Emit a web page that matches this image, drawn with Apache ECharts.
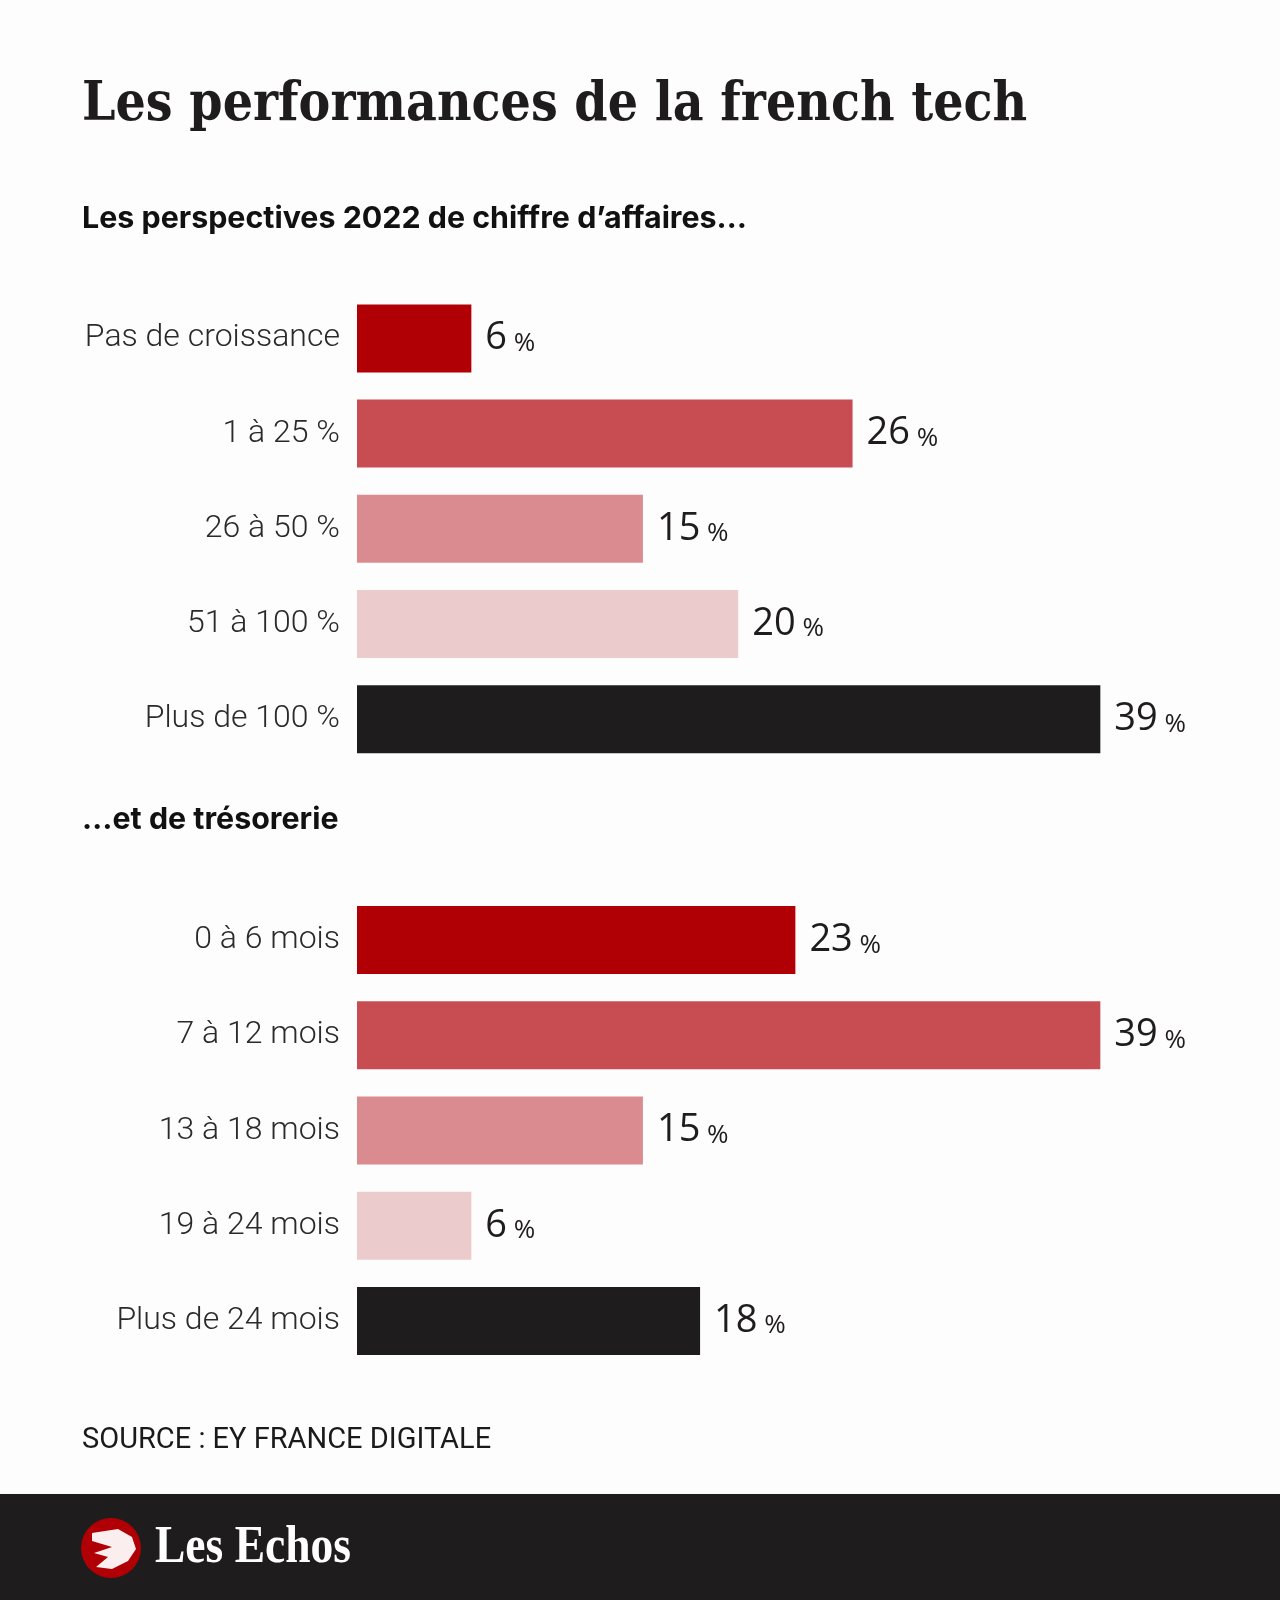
<!DOCTYPE html>
<html><head><meta charset="utf-8">
<script src="https://cdn.jsdelivr.net/npm/echarts@6/dist/echarts.min.js"></script>
<style>html,body{margin:0;padding:0;background:#fefdfd}#c{width:1280px;height:1600px}</style>
</head><body><div id="c"></div>
<script>
const title = "Les performances de la french tech";
const subtitle1 = "Les perspectives 2022 de chiffre d\u2019affaires\u2026";
const subtitle2 = "\u2026et de trésorerie";
const source = "SOURCE : EY FRANCE DIGITALE";
const brand = "Les Echos";

const caCategories = ["Pas de croissance", "1 à 25 %", "26 à 50 %", "51 à 100 %", "Plus de 100 %"];
const caValues = [6, 26, 15, 20, 39];
const tresoCategories = ["0 à 6 mois", "7 à 12 mois", "13 à 18 mois", "19 à 24 mois", "Plus de 24 mois"];
const tresoValues = [23, 39, 15, 6, 18];
const barColors = ["#b00006", "#c84d52", "#d98b8f", "#eccbcc", "#1f1c1e"];

const chart = echarts.init(document.getElementById('c'), null, {renderer: 'canvas'});

function makeData(vals) {
  return vals.map((v, i) => ({value: v, itemStyle: {color: barColors[i]}}));
}
const labelCfg = {
  show: true, position: 'right', distance: 14,
  formatter: p => '{n|' + p.value + '}{p| %}',
  rich: {
    n: {fontFamily: 'Open Sans', fontSize: 38, color: '#1f1c1e', fontWeight: 400},
    p: {fontFamily: 'Open Sans', fontSize: 26, color: '#1f1c1e', padding: [10, 0, 0, 0]}
  }
};
const catAxis = (cats, gi) => ({
  type: 'category', gridIndex: gi, data: cats, inverse: true,
  axisLine: {show: false}, axisTick: {show: false},
  axisLabel: {fontFamily: 'Roboto', fontWeight: 300, fontSize: 32, color: '#2a2a2a', margin: 17}
});
const valAxis = gi => ({
  type: 'value', gridIndex: gi, min: 0, max: 45, show: false, splitLine: {show: false}
});

chart.setOption({
  backgroundColor: '#fefdfd',
  animation: false,
  grid: [
    {left: 357, width: 857.7, top: 290.8, height: 476},
    {left: 357, width: 857.7, top: 892.5, height: 476}
  ],
  xAxis: [valAxis(0), valAxis(1)],
  yAxis: [catAxis(caCategories, 0), catAxis(tresoCategories, 1)],
  series: [
    {type: 'bar', xAxisIndex: 0, yAxisIndex: 0, data: makeData(caValues), barWidth: 68, label: labelCfg},
    {type: 'bar', xAxisIndex: 1, yAxisIndex: 1, data: makeData(tresoValues), barWidth: 68, label: labelCfg}
  ],
  graphic: [
    {type: 'text', x: 82, y: 106, scaleX: 0.883, style: {text: title, font: 'bold 54px "DejaVu Serif"', fill: '#1f1c1e', verticalAlign: 'middle'}},
    {type: 'text', x: 82, y: 219, style: {text: subtitle1, font: 'bold 30.4px Inter', fill: '#111', verticalAlign: 'middle'}},
    {type: 'text', x: 82, y: 820, style: {text: subtitle2, font: 'bold 30.4px Inter', fill: '#111', verticalAlign: 'middle'}},
    {type: 'text', x: 82, y: 1441, style: {text: source, font: '29px Roboto', fill: '#1a1a1a', verticalAlign: 'middle'}},
    {type: 'rect', shape: {x: 0, y: 1494, width: 1280, height: 106}, style: {fill: '#1f1c1e'}},
    {type: 'circle', shape: {cx: 111, cy: 1548, r: 30}, style: {fill: '#b00006'}},
    {type: 'polygon', shape: {points: [[92,1533],[118,1529],[132,1537],[136,1549],[128,1561],[112,1569],[96,1567],[108,1557],[94,1553],[112,1547],[92,1541]]}, style: {fill: '#fbeeee'}},
    {type: 'text', x: 155, y: 1549, scaleX: 0.875, style: {text: brand, font: 'bold 52px "Liberation Serif"', fill: '#ffffff', verticalAlign: 'middle'}}
  ]
});
</script></body></html>
